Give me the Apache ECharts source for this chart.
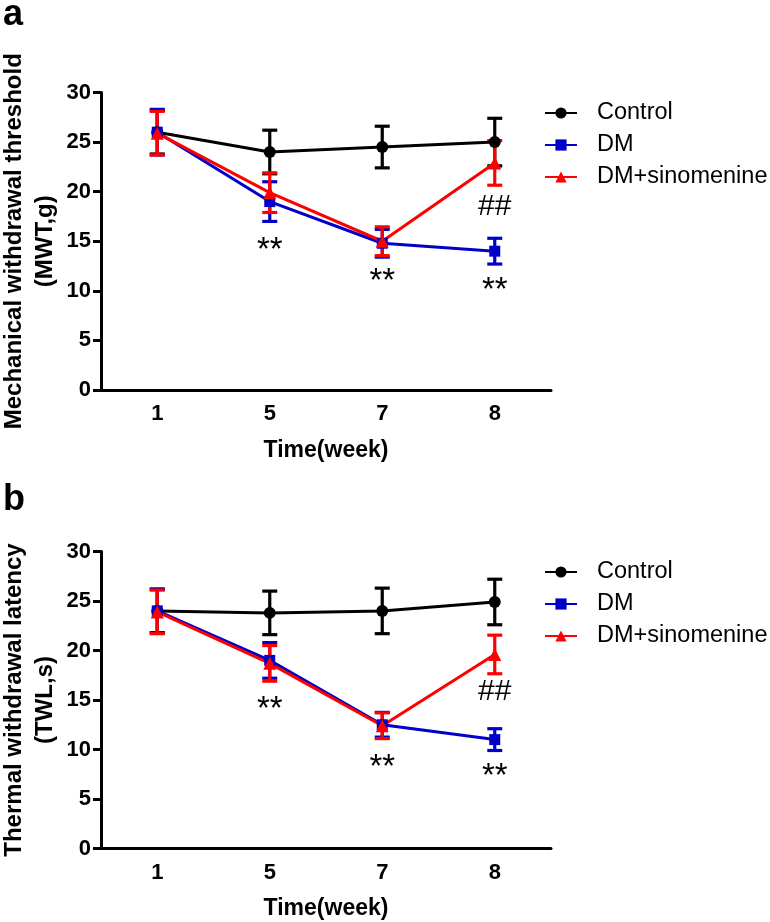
<!DOCTYPE html>
<html>
<head>
<meta charset="utf-8">
<script src="https://cdn.jsdelivr.net/npm/echarts@6/dist/echarts.min.js"></script>
<style>
html,body{margin:0;padding:0;background:#fff;}
#chart{width:770px;height:922px;}
</style>
</head>
<body>
<div id="chart"></div>
<script>
// ---- data ----
const weeks = ['1', '5', '7', '8'];
const seriesNames = ['Control', 'DM', 'DM+sinomenine'];

// Panel a: Mechanical withdrawal threshold (MWT, g)
const mwtControl = [26.0, 24.0, 24.5, 25.0];
const mwtControlErr = [2.2, 2.2, 2.1, 2.4];
const mwtDM = [26.0, 19.0, 14.8, 14.0];
const mwtDMErr = [2.3, 2.0, 1.4, 1.3];
const mwtSino = [25.9, 19.9, 15.0, 22.9];
const mwtSinoErr = [2.2, 2.0, 1.45, 2.25];

// Panel b: Thermal withdrawal latency (TWL, s)
const twlControl = [24.0, 23.8, 24.0, 24.9];
const twlControlErr = [2.2, 2.2, 2.3, 2.3];
const twlDM = [24.0, 19.0, 12.5, 11.0];
const twlDMErr = [2.2, 1.8, 1.25, 1.1];
const twlSino = [23.9, 18.7, 12.4, 19.6];
const twlSinoErr = [2.2, 1.8, 1.3, 1.95];

// significance marks: [week, value, text]
const marksA = [['5', 14.8, '**'], ['7', 11.7, '**'], ['8', 10.8, '**'], ['8', 18.5, '##']];
const marksB = [['5', 14.85, '**'], ['7', 8.96, '**'], ['8', 8.0, '**'], ['8', 15.86, '##']];

const yTicks = [0, 5, 10, 15, 20, 25, 30];

// ---- styling ----
const FONT = 'Liberation Sans, Arial, sans-serif';
const colors = ['#000000', '#0000c8', '#ff0000'];
const symbols = ['circle', 'rect', 'triangle'];
const symbolSizes = [12, 11, 13];

const chart = echarts.init(document.getElementById('chart'), null, {renderer: 'canvas'});

const grids = [
  {left: 101, top: 92.5, width: 450, height: 297.5, containLabel: false, outerBoundsMode: 'none'},
  {left: 101, top: 551.5, width: 450, height: 297, containLabel: false, outerBoundsMode: 'none'}
];

function xAxisFor(i) {
  return {
    type: 'category', gridIndex: i, data: weeks, boundaryGap: true,
    axisLine: {lineStyle: {color: '#000', width: 3}},
    axisTick: {alignWithLabel: true, length: 9, lineStyle: {color: '#000', width: 3}},
    axisLabel: {color: '#000', fontSize: 22, fontWeight: 'bold', fontFamily: FONT, margin: 13},
    name: 'Time(week)', nameLocation: 'middle', nameGap: 49, nameMoveOverlap: false,
    nameTextStyle: {color: '#000', fontSize: 23, fontWeight: 'bold', fontFamily: FONT},
    splitLine: {show: false}
  };
}
function yAxisFor(i, name) {
  return {
    type: 'value', gridIndex: i, min: yTicks[0], max: yTicks[yTicks.length - 1], interval: yTicks[1] - yTicks[0],
    axisLine: {show: true, lineStyle: {color: '#000', width: 3}},
    axisTick: {show: true, length: 8, lineStyle: {color: '#000', width: 3}},
    axisLabel: {color: '#000', fontSize: 22, fontWeight: 'bold', fontFamily: FONT, margin: 10},
    splitLine: {show: false},
    name: name, nameLocation: 'middle', nameGap: 40, nameMoveOverlap: false,
    nameTextStyle: {color: '#000', fontSize: 24, fontWeight: 'bold', fontFamily: FONT, lineHeight: 31, align: 'center'}
  };
}

function errSeries(panel, k, means, errs) {
  return {
    name: seriesNames[k] + ' err', type: 'custom', xAxisIndex: panel, yAxisIndex: panel,
    data: means.map((m, i) => [i, m - errs[i], m + errs[i]]),
    encode: {x: 0, y: [1, 2]},
    silent: true,
    renderItem: function (params, api) {
      const lo = api.coord([api.value(0), api.value(1)]);
      const hi = api.coord([api.value(0), api.value(2)]);
      const hw = 7.5;
      const st = {stroke: colors[k], lineWidth: 3.2, fill: null};
      return {
        type: 'group', children: [
          {type: 'line', shape: {x1: lo[0], y1: lo[1], x2: hi[0], y2: hi[1]}, style: st},
          {type: 'line', shape: {x1: lo[0] - hw, y1: lo[1], x2: lo[0] + hw, y2: lo[1]}, style: st},
          {type: 'line', shape: {x1: hi[0] - hw, y1: hi[1], x2: hi[0] + hw, y2: hi[1]}, style: st}
        ]
      };
    }
  };
}
function lineSeries(panel, k, means) {
  return {
    name: seriesNames[k], type: 'line', xAxisIndex: panel, yAxisIndex: panel,
    data: means, symbol: symbols[k], symbolSize: symbolSizes[k], showSymbol: true,
    itemStyle: {color: colors[k]},
    lineStyle: {color: colors[k], width: 3},
    emphasis: {disabled: true}, animation: false
  };
}
function markSeries(panel, marks) {
  return {
    name: 'marks' + panel, type: 'custom', xAxisIndex: panel, yAxisIndex: panel,
    data: marks.map(m => [weeks.indexOf(m[0]), m[1]]),
    encode: {x: 0, y: 1}, silent: true, z: 5,
    renderItem: function (params, api) {
      const p = api.coord([api.value(0), api.value(1)]);
      const t = marks[params.dataIndex][2];
      const isStar = t === '**';
      return {
        type: 'text', x: p[0], y: p[1] + (isStar ? 8 : 0),
        style: {text: t, fill: '#000', font: (isStar ? '33px ' : '30px ') + FONT, align: 'center', verticalAlign: 'middle'}
      };
    }
  };
}

const panelData = [
  [[mwtControl, mwtControlErr], [mwtDM, mwtDMErr], [mwtSino, mwtSinoErr]],
  [[twlControl, twlControlErr], [twlDM, twlDMErr], [twlSino, twlSinoErr]]
];
const series = [];
panelData.forEach((pd, p) => {
  pd.forEach((d, k) => {
    series.push(errSeries(p, k, d[0], d[1]));
    series.push(lineSeries(p, k, d[0]));
  });
});
series.push(markSeries(0, marksA));
series.push(markSeries(1, marksB));

function legendFor(top) {
  return {
    data: seriesNames, orient: 'vertical', left: 539, top: top,
    itemWidth: 32, itemHeight: 14, itemGap: 8, selectedMode: false,
    textStyle: {color: '#000', fontSize: 23.5, fontFamily: FONT, lineHeight: 24, padding: [0, 0, 0, 15]}
  };
}

chart.setOption({
  animation: false,
  backgroundColor: '#fff',
  grid: grids,
  xAxis: [xAxisFor(0), xAxisFor(1)],
  yAxis: [yAxisFor(0, 'Mechanical withdrawal threshold\n(MWT,g)'), yAxisFor(1, 'Thermal withdrawal latency\n(TWL,s)')],
  legend: [legendFor(96), legendFor(555)],
  series: series,
  graphic: [
    {type: 'text', x: 3, y: 15, style: {text: 'a', font: 'bold 36px ' + FONT, fill: '#000', align: 'left', verticalAlign: 'middle'}},
    {type: 'text', x: 3, y: 500, style: {text: 'b', font: 'bold 36px ' + FONT, fill: '#000', align: 'left', verticalAlign: 'middle'}}
  ]
});
</script>
</body>
</html>
